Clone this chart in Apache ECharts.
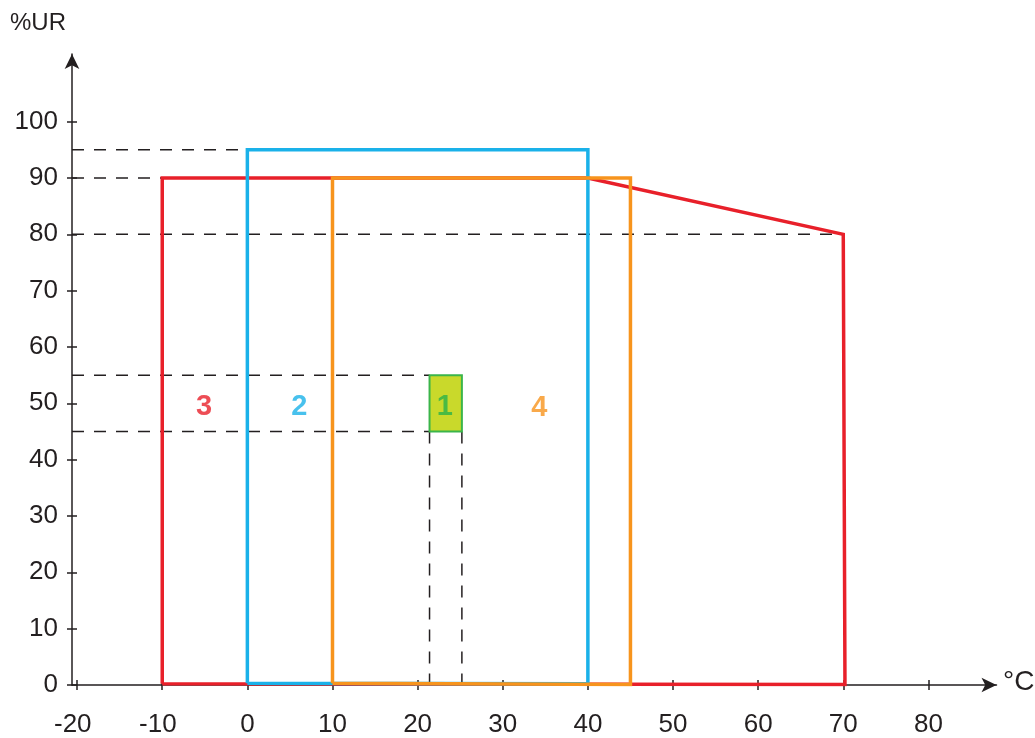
<!DOCTYPE html>
<html><head><meta charset="utf-8">
<script src="https://cdn.jsdelivr.net/npm/echarts@6/dist/echarts.min.js"></script>
<style>html,body{margin:0;padding:0;background:#fff}#c{width:1035px;height:738px}</style>
</head><body><div id="c"></div>
<script>
const xTicks = [-20, -10, 0, 10, 20, 30, 40, 50, 60, 70, 80];
const yTicks = [0, 10, 20, 30, 40, 50, 60, 70, 80, 90, 100];
const zone3 = [[-10, 0.2], [-10, 90], [40, 90], [70, 80], [70.2, 0.1], [-10, 0.2]];
const zone2 = [[0, 0.3], [0, 95], [40, 95], [40, 0.2], [0, 0.3]];
const zone4 = [[10, 0.3], [10, 90], [45, 90], [45, 0.1], [10, 0.3]];
const zone1 = [21.4, 25.2, 45, 55];
const guides = [
  [[-20.6, 95], [0, 95]],
  [[-20.6, 90], [-10, 90]],
  [[-20.6, 80], [70, 80]],
  [[-20.6, 55], [21.4, 55]],
  [[-20.6, 45], [21.4, 45]],
  [[21.4, 45], [21.4, 0]],
  [[25.2, 45], [25.2, 0]]
];
const zoneLabels = [['3', -5.1, 49.4], ['2', 6.1, 49.4], ['1', 23.2, 49.4], ['4', 34.3, 49.1]];
const zoneLabelColors = ['#e8202a', '#1ab1e9', '#2bb24a', '#f7941d'];

const X_MIN = -20.6, X_MAX = 88, Y_MIN = 0, Y_MAX = 112;
const axisColor = '#231f20';
const font = 'Liberation Sans, Arial, sans-serif';

function xAxisDef(inside, show) {
  return {
    type: 'value', min: X_MIN, max: X_MAX, position: 'bottom',
    splitLine: { show: false },
    axisLine: { show: show, onZero: false, lineStyle: { color: axisColor, width: 1.5 },
      symbol: ['none', 'arrow'], symbolSize: [11, 15] },
    axisTick: { show: true, inside: inside, length: 5, customValues: xTicks, lineStyle: { color: axisColor, width: 1.5 } },
    axisLabel: {
      show: show, customValues: xTicks, margin: 27, color: axisColor,
      fontSize: 26, fontFamily: font,
      formatter: v => (v < 0 ? '{n|' + v + '}' : '{p|' + v + '}'),
      rich: {
        n: { fontSize: 26, fontFamily: font, color: axisColor, padding: [0, 8.7, 0, 0] },
        p: { fontSize: 26, fontFamily: font, color: axisColor }
      }
    }
  };
}
function yAxisDef(inside, show) {
  return {
    type: 'value', min: Y_MIN, max: Y_MAX, position: 'left',
    splitLine: { show: false },
    axisLine: { show: show, onZero: false, lineStyle: { color: axisColor, width: 1.5 },
      symbol: ['none', 'arrow'], symbolSize: [11, 15] },
    axisTick: { show: true, inside: inside, length: 5, customValues: yTicks, lineStyle: { color: axisColor, width: 1.5 } },
    axisLabel: { show: show, customValues: yTicks, margin: 14, fontSize: 26, color: axisColor, fontFamily: font }
  };
}

function lineSeries(data, color, width, dashed, z) {
  return {
    type: 'line', data: data, symbol: 'none', silent: true, animation: false, z: z,
    lineStyle: { color: color, width: width, type: dashed ? [12, 10] : 'solid', join: 'miter' }
  };
}

const series = [];
guides.forEach(g => series.push(lineSeries(g, axisColor, 1.5, true, 1)));
series.push(lineSeries(zone3, '#e8202a', 3.5, false, 2));
series.push(lineSeries(zone2, '#1ab1e9', 3.5, false, 3));
series.push(lineSeries(zone4, '#f7941d', 3.5, false, 4));
series.push({
  type: 'custom', z: 5, animation: false, silent: true,
  data: [zone1],
  renderItem: function (params, api) {
    const p0 = api.coord([api.value(0), api.value(3)]);
    const p1 = api.coord([api.value(1), api.value(2)]);
    return { type: 'rect', shape: { x: p0[0], y: p0[1], width: p1[0] - p0[0], height: p1[1] - p0[1] },
      style: { fill: '#c9d92b', stroke: '#3bb54a', lineWidth: 2 } };
  }
});
series.push({
  type: 'scatter', z: 6, symbolSize: 0, silent: true, animation: false,
  data: zoneLabels.map((l, i) => ({ name: l[0], value: [l[1], l[2]],
    label: { show: true, position: 'inside', formatter: l[0], color: zoneLabelColors[i],
      fontSize: 29, fontWeight: 'bold', fontFamily: font } }))
});

const chart = echarts.init(document.getElementById('c'), null, { renderer: 'canvas' });
chart.setOption({
  animation: false,
  backgroundColor: '#fff',
  grid: { left: 72, right: 38.5, top: 54, bottom: 50, containLabel: false },
  xAxis: [xAxisDef(false, true), xAxisDef(true, false)],
  yAxis: [yAxisDef(false, true), yAxisDef(true, false)],
  graphic: [
    { type: 'text', left: 10, top: 11, style: { text: '%UR', fontSize: 24, fill: axisColor, fontFamily: font } },
    { type: 'text', left: 1003, top: 668, style: { text: '°C', fontSize: 28, fill: axisColor, fontFamily: font } }
  ],
  series: series
});
</script></body></html>
